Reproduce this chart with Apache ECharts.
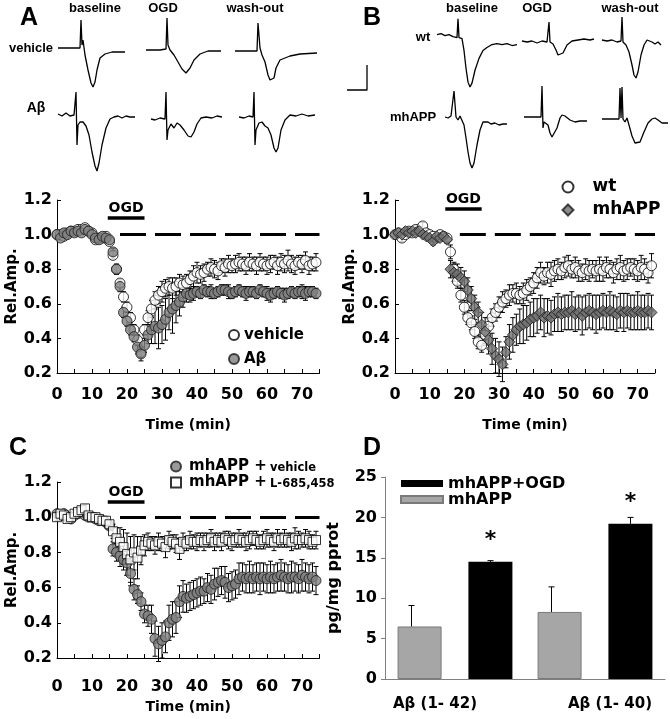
<!DOCTYPE html>
<html>
<head>
<meta charset="utf-8">
<script src="https://cdn.jsdelivr.net/npm/echarts@6/dist/echarts.min.js"></script>
<style>
html,body{margin:0;padding:0;background:#fff}
#main{width:670px;height:719px}
</style>
</head>
<body>
<div id="main"></div>
<script>
//时间轴 (min)
let timeMin = [];
for(let i = 0; i < 75; i++){ timeMin.push(i); }
let xTicks = [0, 10, 20, 30, 40, 50, 60, 70];
let ogdWindow = [14.5, 25];

//A: vehicle / Aβ
let aVeh = [1.00,1.00,0.99,1.01,1.02,1.02,1.03,1.03,1.04,1.02,1.01,0.97,0.98,0.98,0.99,0.96,
  0.88,0.80,0.72,0.64,0.58,0.52,0.45,0.39,0.32,0.45,
  0.52,0.57,0.62,0.65,0.67,0.69,0.70,0.69,0.70,0.72,0.71,0.72,0.74,0.76,0.78,
  0.77,0.78,0.80,0.81,0.80,0.79,0.82,0.81,0.83,0.82,0.83,0.84,0.83,0.82,0.84,0.83,0.82,0.84,0.83,0.82,
  0.83,0.84,0.82,0.84,0.83,0.85,0.83,0.82,0.84,0.83,0.85,0.82,0.83,0.84];
let aVehErr = [0.01,0.01,0.01,0.01,0.01,0.01,0.01,0.02,0.01,0.01,0.01,0.01,0.01,0.01,0.01,0.01,
  0.02,0.02,0.02,0.03,0.03,0.03,0.03,0.03,0.03,0.03,
  0.04,0.05,0.05,0.05,0.06,0.05,0.05,0.06,0.05,0.05,0.05,0.05,0.05,0.06,0.06,
  0.05,0.05,0.04,0.05,0.05,0.05,0.04,0.05,0.05,0.04,0.05,0.05,0.04,0.05,0.05,0.04,0.05,0.05,0.04,0.05,
  0.05,0.04,0.05,0.05,0.05,0.06,0.05,0.05,0.04,0.05,0.05,0.05,0.04,0.05];
let aAb = [1.00,0.98,1.01,1.00,1.02,1.01,1.02,1.01,1.03,1.02,1.00,0.98,0.97,0.99,0.98,0.97,
  0.90,0.80,0.70,0.55,0.50,0.45,0.41,0.35,0.31,0.36,
  0.42,0.45,0.47,0.46,0.48,0.51,0.55,0.57,0.59,0.61,0.64,0.66,0.65,0.66,0.67,
  0.66,0.68,0.67,0.67,0.66,0.67,0.68,0.68,0.67,0.66,0.67,0.68,0.67,0.66,0.67,0.67,0.66,0.68,0.67,0.66,
  0.65,0.66,0.67,0.66,0.65,0.66,0.67,0.66,0.67,0.67,0.66,0.67,0.67,0.66];
let aAbErr = [0.01,0.01,0.01,0.01,0.01,0.01,0.01,0.01,0.01,0.01,0.01,0.01,0.01,0.01,0.01,0.01,
  0.02,0.03,0.03,0.03,0.03,0.03,0.03,0.04,0.04,0.04,
  0.05,0.08,0.10,0.12,0.11,0.12,0.10,0.14,0.10,0.08,0.06,0.05,0.04,0.04,0.03,
  0.03,0.03,0.03,0.04,0.03,0.03,0.03,0.03,0.04,0.03,0.03,0.03,0.03,0.04,0.03,0.03,0.03,0.03,0.03,0.04,
  0.04,0.03,0.03,0.03,0.04,0.03,0.03,0.03,0.03,0.04,0.04,0.03,0.03,0.03];

//B: wt / mhAPP
let bWt = [1.00,1.01,0.98,1.00,1.02,1.01,1.03,1.02,1.05,1.01,1.00,0.99,0.98,1.00,0.99,0.98,
  0.90,0.80,0.73,0.65,0.58,0.52,0.49,0.44,0.38,0.36,
  0.42,0.47,0.52,0.55,0.58,0.61,0.63,0.65,0.66,0.66,0.65,0.66,0.68,0.70,0.72,
  0.75,0.78,0.76,0.78,0.77,0.79,0.80,0.79,0.81,0.82,0.80,0.81,0.79,0.78,0.80,0.79,0.80,0.79,0.80,0.79,
  0.81,0.80,0.78,0.80,0.81,0.79,0.80,0.81,0.80,0.79,0.81,0.80,0.78,0.82];
let bWtErr = [0.01,0.01,0.02,0.01,0.01,0.01,0.02,0.01,0.02,0.01,0.01,0.01,0.02,0.01,0.01,0.02,
  0.04,0.04,0.04,0.04,0.04,0.04,0.04,0.04,0.04,0.04,
  0.05,0.05,0.05,0.05,0.06,0.06,0.05,0.06,0.05,0.06,0.05,0.06,0.06,0.05,0.06,
  0.06,0.06,0.05,0.06,0.07,0.06,0.06,0.05,0.06,0.06,0.05,0.06,0.06,0.05,0.06,0.06,0.05,0.06,0.07,0.06,
  0.06,0.05,0.06,0.06,0.07,0.06,0.06,0.05,0.06,0.06,0.07,0.06,0.06,0.07];
let bApp = [1.00,1.01,1.00,1.02,1.01,1.02,1.01,1.02,1.00,0.99,0.98,0.96,0.99,0.98,0.99,0.97,
  0.80,0.78,0.77,0.75,0.73,0.68,0.63,0.58,0.55,0.48,
  0.44,0.39,0.34,0.30,0.28,0.25,0.32,0.38,0.42,0.45,0.47,0.48,0.49,0.51,0.52,
  0.53,0.55,0.52,0.53,0.52,0.54,0.55,0.54,0.55,0.55,0.56,0.54,0.55,0.53,0.55,0.56,0.55,0.54,0.55,0.56,
  0.55,0.56,0.55,0.54,0.56,0.55,0.56,0.55,0.55,0.56,0.55,0.55,0.56,0.55];
let bAppErr = [0.01,0.01,0.01,0.02,0.01,0.01,0.01,0.02,0.01,0.01,0.01,0.02,0.01,0.01,0.01,0.02,
  0.05,0.05,0.06,0.06,0.06,0.07,0.07,0.07,0.06,0.07,
  0.08,0.08,0.09,0.10,0.10,0.10,0.09,0.10,0.10,0.09,0.10,0.11,0.10,0.10,0.11,
  0.10,0.10,0.11,0.10,0.10,0.10,0.11,0.10,0.10,0.10,0.11,0.10,0.10,0.11,0.10,0.10,0.10,0.11,0.10,0.10,
  0.10,0.11,0.10,0.10,0.10,0.11,0.10,0.10,0.10,0.11,0.10,0.10,0.10,0.10];

//C: mhAPP + vehicle / mhAPP + L-685,458
let cVeh = [1.02,1.01,1.02,1.00,0.99,1.01,1.02,1.03,1.01,1.00,1.00,0.99,0.98,0.98,0.97,0.95,
  0.82,0.80,0.78,0.76,0.74,0.68,0.59,0.56,0.52,0.45,
  0.44,0.42,0.31,0.28,0.30,0.32,0.40,0.42,0.43,0.52,0.55,0.54,0.55,0.56,0.57,
  0.58,0.58,0.60,0.59,0.62,0.63,0.64,0.63,0.60,0.61,0.62,0.65,0.66,0.65,0.66,0.65,0.66,0.65,0.66,0.65,
  0.66,0.65,0.66,0.67,0.66,0.65,0.66,0.66,0.65,0.67,0.66,0.65,0.66,0.64];
let cVehErr = [0.01,0.01,0.01,0.01,0.01,0.01,0.01,0.01,0.01,0.01,0.01,0.01,0.01,0.01,0.01,0.02,
  0.04,0.05,0.06,0.06,0.07,0.07,0.06,0.05,0.05,0.05,
  0.06,0.08,0.10,0.10,0.10,0.09,0.10,0.10,0.09,0.09,0.09,0.08,0.08,0.08,0.08,
  0.08,0.07,0.08,0.08,0.09,0.08,0.08,0.09,0.08,0.08,0.08,0.09,0.08,0.08,0.09,0.08,0.08,0.09,0.08,0.08,
  0.09,0.08,0.08,0.09,0.08,0.08,0.09,0.08,0.08,0.09,0.08,0.08,0.08,0.08];
let cL685 = [1.00,1.02,1.01,0.99,1.00,1.02,1.03,1.04,1.05,1.01,1.00,1.00,0.99,0.98,0.98,0.96,
  0.92,0.88,0.86,0.83,0.79,0.76,0.80,0.77,0.81,0.84,
  0.86,0.85,0.84,0.86,0.85,0.83,0.87,0.86,0.85,0.82,0.86,0.85,0.87,0.86,0.86,
  0.87,0.86,0.87,0.88,0.86,0.87,0.86,0.88,0.87,0.86,0.87,0.88,0.87,0.86,0.87,0.88,0.87,0.86,0.87,0.88,
  0.87,0.86,0.88,0.87,0.88,0.87,0.86,0.88,0.87,0.87,0.88,0.87,0.86,0.87];
let cL685Err = [0.02,0.02,0.02,0.02,0.02,0.02,0.02,0.02,0.02,0.02,0.02,0.02,0.02,0.02,0.02,0.02,
  0.04,0.06,0.08,0.10,0.12,0.13,0.10,0.12,0.08,0.06,
  0.05,0.04,0.05,0.05,0.04,0.06,0.05,0.04,0.05,0.06,0.05,0.04,0.05,0.04,0.05,
  0.04,0.05,0.04,0.05,0.05,0.04,0.05,0.04,0.05,0.05,0.04,0.05,0.04,0.05,0.05,0.04,0.05,0.04,0.05,0.05,
  0.04,0.05,0.05,0.04,0.05,0.04,0.05,0.06,0.05,0.04,0.05,0.05,0.04,0.05];

//D: ELISA
let dCats = ['Aβ (1- 42)', 'Aβ (1- 40)'];
let dApp = [6.5, 8.3];
let dAppErr = [2.6, 3.1];
let dOgd = [14.5, 19.2];
let dOgdErr = [0.15, 0.8];

//电生理记录 [ms, mV]
let trVehBase = [[0,0],[3,0],[5.5,0],[5.75,0.56],[6,0.06],[6.25,0.16],[6.75,-0.14],[7.5,-0.44],[8.25,-0.7],[8.75,-0.78],[9.25,-0.68],[9.75,-0.44],[10.5,-0.2],[11.75,-0.12],[13.5,-0.08],[16.75,-0.08]];
let trVehOgd = [[0,0],[3.5,0],[5,0.02],[5.25,0.64],[5.5,0.1],[6,0],[7,-0.1],[8,-0.24],[9,-0.38],[10,-0.46],[11,-0.36],[12,-0.2],[13.5,-0.08],[15.5,-0.02],[18.75,-0.02]];
let trVehWash = [[0,0],[3.75,0],[5.5,0],[5.75,0.56],[6,0.54],[6.25,0.06],[6.75,-0.08],[7.5,-0.22],[8.25,-0.48],[8.75,-0.58],[9.25,-0.62],[9.75,-0.54],[10.25,-0.34],[11.25,-0.18],[13.75,-0.1],[16.25,-0.06],[20.5,-0.04]];
let trAbBase = [[0,0.02],[1,-0.02],[2,0.04],[3,-0.02],[4,0],[4.25,0],[4.5,0.46],[4.75,-0.6],[5,-0.2],[5.5,-0.14],[6.25,-0.14],[7,-0.22],[7.75,-0.4],[8.5,-0.74],[9.25,-1.02],[9.75,-1.12],[10.25,-0.96],[11,-0.6],[12,-0.26],[13,-0.08],[14,-0.04],[15,-0.02],[16,-0.06],[17,-0.02],[18,-0.04],[19.25,-0.04]];
let trAbOgd = [[0,0],[1,-0.02],[2.25,0.02],[3.5,0],[3.75,0.54],[4,-0.42],[4.25,-0.22],[5,-0.1],[5.75,-0.18],[6.5,-0.08],[7.25,-0.12],[8.25,-0.22],[9.25,-0.34],[10,-0.36],[10.75,-0.26],[11.5,-0.1],[12.5,0.02],[13.75,0.04],[15.25,0.02],[16.5,0.06],[17.75,0.04]];
let trAbWash = [[0,0],[1.25,-0.02],[2.5,0.02],[3.5,0],[3.75,0.5],[4,-0.56],[4.25,-0.26],[5,-0.12],[5.75,-0.1],[6.5,-0.18],[7.25,-0.22],[8,-0.36],[8.75,-0.62],[9.25,-0.7],[9.75,-0.62],[10.5,-0.26],[11.5,-0.06],[12.75,0.04],[14.25,0.02],[15.75,0.06],[17.25,0.02],[19,0.04]];
let trWtBase = [[0,0],[1,0.02],[2,-0.02],[3,0],[4,-0.04],[5,-0.06],[5.25,0.32],[5.5,-0.06],[6.25,-0.08],[6.75,-0.32],[7.25,-0.68],[7.75,-0.96],[8.25,-1.06],[8.75,-0.98],[9.5,-0.72],[10.5,-0.48],[11.5,-0.32],[12.5,-0.26],[13.75,-0.2],[15,-0.18],[16.25,-0.2],[17.5,-0.18],[18.75,-0.22],[20,-0.2]];
let trWtOgd = [[0,0.02],[1.25,0],[2.5,0.02],[3.75,-0.02],[5,0.02],[6.25,0],[6.75,0.4],[7,0],[7.75,-0.04],[8.5,-0.16],[9,-0.26],[9.5,-0.3],[10.25,-0.22],[11.25,-0.06],[12.5,0.02],[14,0.04],[15.5,0.06],[17,0.04],[18,0.06]];
let trWtWash = [[0,0.02],[1.25,0],[2.5,0.02],[3.75,-0.02],[4.75,0],[5,0.48],[5.25,-0.02],[6,-0.08],[6.75,-0.22],[7.5,-0.48],[8,-0.68],[8.5,-0.74],[9,-0.62],[9.75,-0.28],[10.5,-0.08],[11.25,0.02],[11.75,0.06],[12.5,-0.02],[13.25,-0.06],[14,-0.02],[14.75,-0.08]];
let trAppBase = [[0,0],[0.75,-0.02],[1.5,0.02],[2,0],[2.25,0.52],[2.5,0.5],[2.75,0],[3.25,-0.06],[3.75,0.02],[4.25,-0.02],[4.75,-0.16],[5.25,-0.42],[5.75,-0.7],[6.25,-0.92],[6.75,-1.02],[7.25,-0.92],[8,-0.56],[8.75,-0.26],[9.5,-0.1],[10,-0.08],[10.75,-0.1],[11.5,-0.14],[12.5,-0.12],[13.5,-0.16],[14.5,-0.14],[15.5,-0.14]];
let trAppOgd = [[0,0],[1.5,0],[3,0],[4.25,0],[4.5,0.62],[4.75,-0.22],[5,-0.1],[5.5,-0.06],[6,-0.16],[6.5,-0.32],[7,-0.4],[7.5,-0.38],[8.25,-0.22],[9,-0.02],[9.5,0.04],[10.25,0.02],[11.5,-0.06],[12.75,-0.1],[14,-0.08],[15.75,-0.08]];
let trAppWash = [[0,0],[1.5,0],[3,0],[4.25,0],[4.5,0.62],[4.75,0.02],[5,0.64],[5.25,0],[5.75,-0.06],[6.25,0.02],[6.75,-0.12],[7.5,-0.34],[8.25,-0.48],[8.75,-0.52],[9.5,-0.46],[10.5,-0.26],[11.5,-0.08],[12.5,0],[13.25,0.02],[14,-0.02],[15,-0.08],[16.5,-0.08]];
//标尺 5 ms / 0.5 mV
let scaleBar = [[0,0],[5,0],[5,0.5]];

let FONT = 'DejaVu Sans';
let FONT2 = 'Liberation Sans';

let grid = [], xAxis = [], yAxis = [], series = [], legend = [], graphic = [];

function pairs(vals){
    return timeMin.map((t, i) => [t, vals[i]]);
}

function errorBars(gi, vals, errs){
    return {
        type: 'custom', xAxisIndex: gi, yAxisIndex: gi, z: 2, silent: true,
        encode: {x: 0, y: [1, 2]},
        data: vals.map((v, i) => [timeMin[i], v - errs[i], v + errs[i]]),
        renderItem: function(params, api){
            let lo = api.coord([api.value(0), api.value(1)]);
            let hi = api.coord([api.value(0), api.value(2)]);
            let w = 2.5;
            let st = {stroke: '#000', lineWidth: 1};
            return {type: 'group', children: [
                {type: 'line', shape: {x1: lo[0], y1: lo[1], x2: hi[0], y2: hi[1]}, style: st},
                {type: 'line', shape: {x1: lo[0]-w, y1: lo[1], x2: lo[0]+w, y2: lo[1]}, style: st},
                {type: 'line', shape: {x1: hi[0]-w, y1: hi[1], x2: hi[0]+w, y2: hi[1]}, style: st}
            ]};
        }
    };
}

function timePanel(gi, box, labelMargin, nameGap, ogdLevel, dashStart){
    grid.push({left: box[0], top: box[1], width: box[2], height: box[3]});
    xAxis.push({
        gridIndex: gi, type: 'value', min: 0, max: 75, interval: 10,
        axisLine: {lineStyle: {color: '#000', width: 1}},
        axisTick: {inside: true, length: 4, lineStyle: {color: '#000'}},
        minorTick: {show: true, splitNumber: 2, length: 4, lineStyle: {color: '#000'}},
        splitLine: {show: false},
        axisLabel: {
            formatter: v => xTicks.indexOf(v) >= 0 ? String(v) : '',
            showMaxLabel: false, margin: labelMargin,
            color: '#000', fontFamily: FONT, fontWeight: 'bold', fontSize: 16
        },
        name: 'Time (min)', nameLocation: 'middle', nameGap: nameGap,
        nameTextStyle: {color: '#000', fontFamily: FONT, fontWeight: 'bold', fontSize: 14}
    });
    yAxis.push({
        gridIndex: gi, type: 'value', min: 0.2, max: 1.2, interval: 0.2,
        axisLine: {show: true, lineStyle: {color: '#000', width: 1}},
        axisTick: {show: true, inside: true, length: 4, lineStyle: {color: '#000'}},
        splitLine: {show: false},
        axisLabel: {
            formatter: v => v.toFixed(1), margin: 5,
            color: '#000', fontFamily: FONT, fontWeight: 'bold', fontSize: 16
        },
        name: 'Rel.Amp.', nameLocation: 'middle', nameGap: 36,
        nameTextStyle: {color: '#000', fontFamily: FONT, fontWeight: 'bold', fontSize: 15}
    });
    return {
        silent: true, symbol: ['none', 'none'], animation: false,
        label: {show: false},
        data: [
            [{coord: [dashStart, 1.0], lineStyle: {type: [26, 9], width: 3, color: '#000'}}, {coord: [75, 1.0]}],
            [{coord: [ogdWindow[0], ogdLevel], lineStyle: {type: 'solid', width: 3.5, color: '#000'},
              label: {show: true, formatter: 'OGD', position: 'middle', distance: 2,
                      color: '#000', fontFamily: FONT, fontWeight: 'bold', fontSize: 14}},
             {coord: [ogdWindow[1], ogdLevel]}]
        ]
    };
}

let openStyle = {color: '#fff', borderColor: '#000', borderWidth: 1};
let grayStyle = {color: '#808080', borderColor: '#1a1a1a', borderWidth: 1};
let diamondStyle = {color: '#6f6f6f', borderColor: '#1a1a1a', borderWidth: 1};

function scatter(gi, name, vals, symbol, size, style, markLine){
    let s = {
        type: 'scatter', name: name, xAxisIndex: gi, yAxisIndex: gi, z: 3,
        symbol: symbol, symbolSize: size, itemStyle: style, data: pairs(vals)
    };
    if(markLine){ s.markLine = markLine; }
    return s;
}

//A
let mlA = timePanel(0, [57, 200, 262.5, 173], 14, 45, 1.1, 18);
series.push(errorBars(0, aVeh, aVehErr));
series.push(errorBars(0, aAb, aAbErr));
series.push(scatter(0, 'vehicle', aVeh, 'circle', 10, openStyle, mlA));
series.push(scatter(0, 'Aβ', aAb, 'circle', 10, grayStyle));

//B
let mlB = timePanel(1, [395, 200, 260, 173], 14, 45, 1.15, 18.7);
series.push(errorBars(1, bWt, bWtErr));
series.push(errorBars(1, bApp, bAppErr));
series.push(scatter(1, 'wt', bWt, 'circle', 10, openStyle, mlB));
series.push(scatter(1, 'mhAPP', bApp, 'diamond', 11, diamondStyle));

//C
let mlC = timePanel(2, [57, 482, 262.5, 176], 21, 42, 1.09, 18);
series.push(errorBars(2, cVeh, cVehErr));
series.push(errorBars(2, cL685, cL685Err));
series.push(scatter(2, 'mhAPP + vehicle', cVeh, 'circle', 10, grayStyle, mlC));
series.push(scatter(2, 'mhAPP + L-685,458', cL685, 'rect', 9, openStyle));

//D
grid.push({left: 385, top: 477, width: 280, height: 202});
xAxis.push({
    gridIndex: 3, type: 'category', data: dCats,
    axisLine: {lineStyle: {color: '#808080', width: 1}},
    axisTick: {show: false},
    axisLabel: {
        margin: 18, color: '#000',
        formatter: (v, i) => i === 0 ? '{l|' + v + '}' : '{r|' + v + '}',
        rich: {
            l: {fontFamily: FONT, fontWeight: 'bold', fontSize: 15, color: '#000', padding: [0, 40, 0, 0]},
            r: {fontFamily: FONT, fontWeight: 'bold', fontSize: 15, color: '#000', padding: [0, 0, 0, 30]}
        }
    }
});
yAxis.push({
    gridIndex: 3, type: 'value', min: 0, max: 25, interval: 5,
    axisLine: {show: true, lineStyle: {color: '#808080', width: 1}},
    axisTick: {show: true, length: 4, lineStyle: {color: '#808080'}},
    splitLine: {show: false},
    axisLabel: {margin: 8, color: '#000', fontFamily: FONT, fontWeight: 'bold', fontSize: 16},
    name: 'pg/mg pprot', nameLocation: 'middle', nameGap: 43,
    nameTextStyle: {color: '#000', fontFamily: FONT, fontWeight: 'bold', fontSize: 16}
});
series.push({
    type: 'bar', name: 'mhAPP_ctrl', xAxisIndex: 3, yAxisIndex: 3,
    barWidth: 44, barGap: '61%', data: dApp,
    itemStyle: {color: '#a6a6a6', borderColor: '#7a7a7a', borderWidth: 1}
});
series.push({
    type: 'bar', name: 'mhAPP+OGD', xAxisIndex: 3, yAxisIndex: 3,
    barWidth: 44, data: dOgd,
    itemStyle: {color: '#000'},
    label: {show: true, position: 'top', distance: 11, formatter: '*',
            color: '#000', fontFamily: FONT, fontWeight: 'bold', fontSize: 22}
});
function barErrors(vals, errs, offset){
    return {
        type: 'custom', xAxisIndex: 3, yAxisIndex: 3, z: 4, silent: true,
        encode: {x: 0, y: [1, 2]},
        data: vals.map((v, i) => [i, v, v + errs[i]]),
        renderItem: function(params, api){
            let lo = api.coord([api.value(0), api.value(1)]);
            let hi = api.coord([api.value(0), api.value(2)]);
            let x = lo[0] + offset;
            let st = {stroke: '#000', lineWidth: 1};
            return {type: 'group', children: [
                {type: 'line', shape: {x1: x, y1: lo[1], x2: x, y2: hi[1]}, style: st},
                {type: 'line', shape: {x1: x - 3, y1: hi[1], x2: x + 3, y2: hi[1]}, style: st}
            ]};
        }
    };
}
series.push(barErrors(dApp, dAppErr, -43.5));
series.push(barErrors(dOgd, dOgdErr, 35.5));

//图例
let legText = {color: '#000', fontFamily: FONT, fontWeight: 'bold'};
legend.push({
    data: ['vehicle', 'Aβ'], orient: 'vertical', left: 223, top: 322.5,
    itemWidth: 10, itemHeight: 10, itemGap: 9, selectedMode: false,
    textStyle: Object.assign({fontSize: 15}, legText)
});
legend.push({
    data: ['wt', 'mhAPP'], orient: 'vertical', left: 556.5, top: 173.5,
    itemWidth: 11, itemHeight: 11, itemGap: 6, selectedMode: false,
    textStyle: Object.assign({fontSize: 17, padding: [0, 0, 0, 14]}, legText)
});
legend.push({
    data: ['mhAPP + vehicle', 'mhAPP + L-685,458'], orient: 'vertical', left: 165, top: 454,
    itemWidth: 10, itemHeight: 10, itemGap: 1, selectedMode: false,
    formatter: name => name === 'mhAPP + vehicle' ? '{a|mhAPP +} {b|vehicle}' : '{a|mhAPP +} {b|L-685,458}',
    textStyle: {
        color: '#000', padding: [0, 0, 0, 3],
        rich: {
            a: {fontFamily: FONT, fontWeight: 'bold', fontSize: 15, color: '#000'},
            b: {fontFamily: FONT, fontWeight: 'bold', fontSize: 11.5, color: '#000', padding: [3, 0, 0, 0]}
        }
    }
});
legend.push({
    data: ['mhAPP+OGD', 'mhAPP_ctrl'], orient: 'vertical', left: 395, top: 470.5,
    icon: 'rect', itemWidth: 42, itemHeight: 7, itemGap: 0, selectedMode: false,
    formatter: name => name === 'mhAPP_ctrl' ? 'mhAPP' : name,
    textStyle: Object.assign({fontSize: 16, lineHeight: 15}, legText)
});

//记录曲线
let traces = [
    {data: trVehBase, left: 58, base: 48},
    {data: trVehOgd, left: 146, base: 50},
    {data: trVehWash, left: 235, base: 51},
    {data: trAbBase, left: 58, base: 115},
    {data: trAbOgd, left: 151, base: 119},
    {data: trAbWash, left: 239, base: 117},
    {data: trWtBase, left: 437, base: 34},
    {data: trWtOgd, left: 522, base: 42},
    {data: trWtWash, left: 602, base: 41},
    {data: trAppBase, left: 445, base: 117},
    {data: trAppOgd, left: 524, base: 117},
    {data: trAppWash, left: 602, base: 119},
    {data: scaleBar, left: 347, base: 90}
];
traces.forEach((tr, k) => {
    let gi = 4 + k;
    let maxMs = tr.data[tr.data.length - 1][0];
    grid.push({left: tr.left, top: tr.base - 35, width: maxMs * 4, height: 95});
    xAxis.push({gridIndex: gi, type: 'value', min: 0, max: maxMs, show: false});
    yAxis.push({gridIndex: gi, type: 'value', min: -1.2, max: 0.7, show: false});
    series.push({
        type: 'line', xAxisIndex: gi, yAxisIndex: gi, data: tr.data,
        showSymbol: false, clip: false, silent: true,
        lineStyle: {color: '#000', width: 1.3}
    });
});

//文字
function txt(text, x, y, size, family, align){
    graphic.push({
        type: 'text', x: x, y: y, silent: true,
        style: {text: text, fill: '#000', fontFamily: family || FONT2, fontWeight: 'bold',
                fontSize: size, align: align || 'center', verticalAlign: 'middle'}
    });
}
txt('A', 29, 18, 25);
txt('B', 372, 18, 25);
txt('C', 18, 448, 25);
txt('D', 372, 448, 25);
txt('baseline', 95, 8, 13);
txt('OGD', 163, 8, 13);
txt('wash-out', 255, 8, 13);
txt('baseline', 472, 8, 13);
txt('OGD', 537, 8, 13);
txt('wash-out', 630, 8, 13);
txt('vehicle', 31, 48, 13);
txt('Aβ', 36, 108, 14);
txt('wt', 423, 37, 13);
txt('mhAPP', 413, 117, 13);

let chart = echarts.init(document.getElementById('main'));
chart.setOption({
    backgroundColor: '#fff',
    animation: false,
    grid: grid,
    xAxis: xAxis,
    yAxis: yAxis,
    legend: legend,
    series: series,
    graphic: graphic
});
</script>
</body>
</html>
